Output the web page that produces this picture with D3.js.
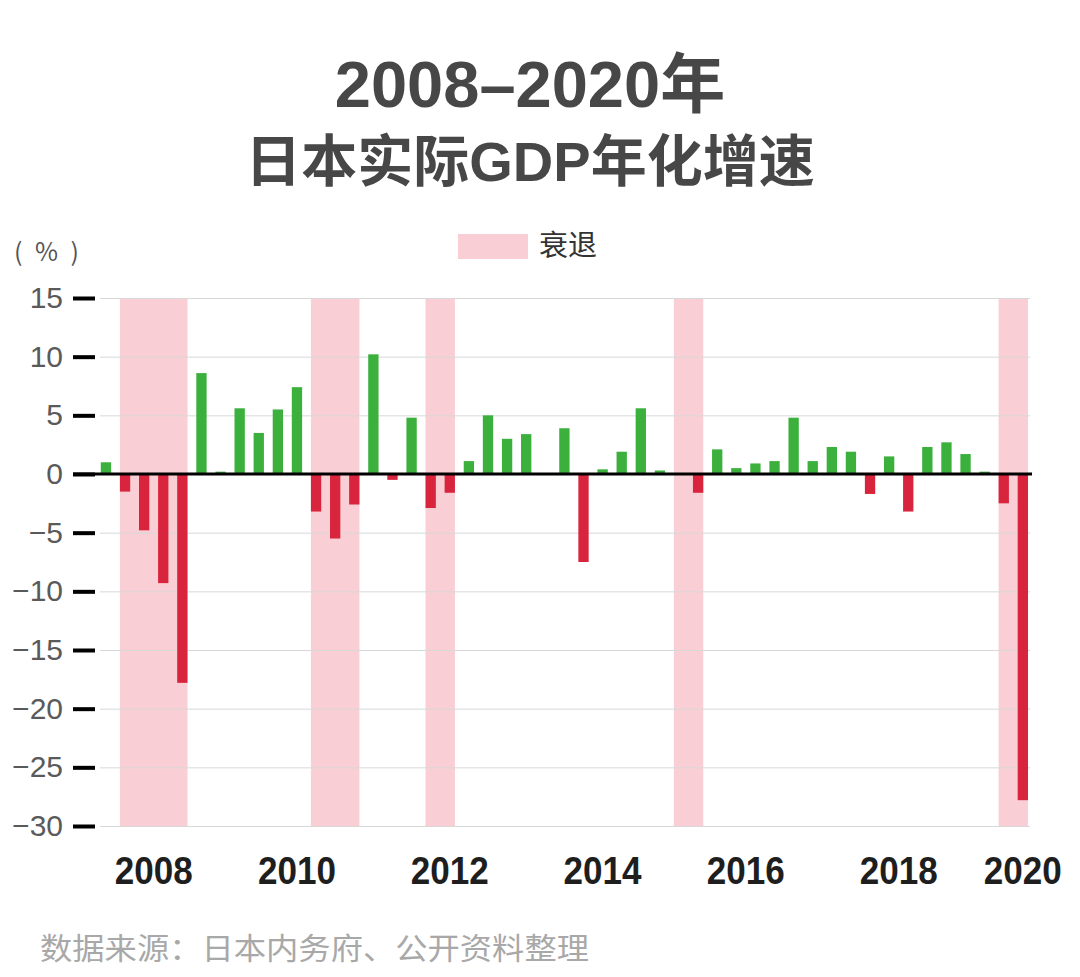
<!DOCTYPE html>
<html><head><meta charset="utf-8">
<script src="https://cdn.jsdelivr.net/npm/d3@7"></script>
<style>
html,body{margin:0;padding:0;background:#fff;}
svg{display:block;}
</style></head>
<body>
<svg id="chart" width="1080" height="977"></svg>
<script>
// ---- data ----
const quarters = [];
for (let yr = 2008; yr <= 2020; yr++) for (let q = 1; q <= 4; q++) {
  if (yr === 2020 && q > 1) break;
  quarters.push(yr + "Q" + q);
}
const gdpGrowth = [1.0,-1.5,-4.8,-9.3,-17.8,8.6,0.2,5.6,3.5,5.5,7.4,-3.2,-5.5,-2.6,10.2,-0.5,4.8,-2.9,-1.6,1.1,5.0,3.0,3.4,0,3.9,-7.5,0.4,1.9,5.6,0.3,0,-1.6,2.1,0.5,0.9,1.1,4.8,1.1,2.3,1.9,-1.7,1.5,-3.2,2.3,2.7,1.7,0.2,-2.5,-27.8];
const recessionStart = ["2008Q2","2010Q4","2012Q2","2015Q3","2019Q4"];
const recessionEnd   = ["2009Q1","2011Q2","2012Q3","2015Q4","2020Q1"];
const yTicks = [15,10,5,0,-5,-10,-15,-20,-25,-30];
const yearLabels = ["2008","2010","2012","2014","2016","2018","2020"];
const yearLabelFrom = ["2008Q3","2010Q3","2012Q3","2014Q3","2016Q2","2018Q2","2020Q1"];
const yearLabelTo   = ["2008Q4","2010Q3","2012Q3","2014Q3","2016Q3","2018Q3","2020Q1"];
const titleLines = ["2008–2020年","日本实际GDP年化增速"];
const legendLabel = "衰退";
const unitLabel = "(%)";
const sourceText = "数据来源：日本内务府、公开资料整理";

// ---- drawing ----
const svg = d3.select("#chart");
const GREEN = "#3bb03c", RED = "#d8253d", PINK = "#f9cfd5";
const latin = "'Liberation Sans', Arial, 'Noto Sans CJK SC', sans-serif";

const x = d3.scaleBand().domain(quarters).range([92, 1036.8]).padding(0.46);
const y = d3.scaleLinear().domain([-30, 15]).range([826, 298]);
const xc = q => x(q) + x.bandwidth() / 2;

// titles
svg.append("g").selectAll("text").data(titleLines).join("text")
  .attr("x", 530).attr("y", (d, i) => i === 0 ? 107 : 181)
  .attr("text-anchor", "middle")
  .attr("font-family", latin).attr("font-weight", "bold")
  .attr("font-size", (d, i) => i === 0 ? 65 : 56)
  .attr("fill", "#474747")
  .text(d => d);

// legend
svg.append("rect").attr("x", 458).attr("y", 234).attr("width", 70).attr("height", 25).attr("fill", PINK);
svg.append("text").attr("x", 539).attr("y", 256)
  .attr("font-family", "'Noto Sans CJK SC', sans-serif").attr("font-size", 29)
  .attr("fill", "#333").text(legendLabel);

// unit
svg.append("text").attr("x", 14).attr("y", 261)
  .attr("font-family", "'Noto Sans CJK SC', sans-serif").attr("font-size", 25)
  .attr("fill", "#555").attr("textLength", 65).attr("lengthAdjust", "spacing")
  .text(unitLabel);

// recession bands
svg.append("g").selectAll("rect").data(recessionStart).join("rect")
  .attr("x", d => x(d))
  .attr("width", (d, i) => x(recessionEnd[i]) + x.bandwidth() - x(d))
  .attr("y", y(15)).attr("height", y(-30) - y(15))
  .attr("fill", PINK);

// gridlines
const grid = svg.append("g").attr("transform", "translate(100,0)")
  .call(d3.axisLeft(y).tickValues(yTicks).tickSize(-930).tickFormat(""));
grid.select(".domain").remove();
grid.selectAll(".tick line").attr("stroke", "#d8d8d8").attr("stroke-width", 1);

// y axis
const yAxis = svg.append("g").attr("transform", "translate(95,0)")
  .call(d3.axisLeft(y).tickValues(yTicks).tickSize(22).tickPadding(10));
yAxis.select(".domain").remove();
yAxis.selectAll(".tick line").attr("stroke", "#000").attr("stroke-width", 4);
yAxis.selectAll(".tick text").attr("font-family", latin).attr("font-size", 30).attr("fill", "#5a5a5a");

// bars
svg.append("g").selectAll("rect").data(gdpGrowth).join("rect")
  .attr("x", (d, i) => x(quarters[i]))
  .attr("width", x.bandwidth())
  .attr("y", d => y(Math.max(0, d)))
  .attr("height", d => Math.abs(y(d) - y(0)))
  .attr("fill", d => d >= 0 ? GREEN : RED);

// zero line
svg.append("line").attr("x1", 73).attr("x2", 1032).attr("y1", y(0)).attr("y2", y(0))
  .attr("stroke", "#000").attr("stroke-width", 3);

// x axis (year labels)
svg.append("g").selectAll("text").data(yearLabels).join("text")
  .attr("x", (d, i) => (xc(yearLabelFrom[i]) + xc(yearLabelTo[i])) / 2)
  .attr("y", 884)
  .attr("text-anchor", "middle")
  .attr("font-family", latin).attr("font-weight", "bold").attr("font-size", 38)
  .attr("fill", "#1e1e1e")
  .attr("textLength", 78).attr("lengthAdjust", "spacingAndGlyphs")
  .text(d => d);

// source
svg.append("text").attr("x", 40).attr("y", 959)
  .attr("font-family", "'Noto Sans CJK SC', sans-serif").attr("font-size", 30)
  .attr("fill", "#a8a8a8").attr("textLength", 549).attr("lengthAdjust", "spacingAndGlyphs")
  .text(sourceText);
</script>
</body></html>
